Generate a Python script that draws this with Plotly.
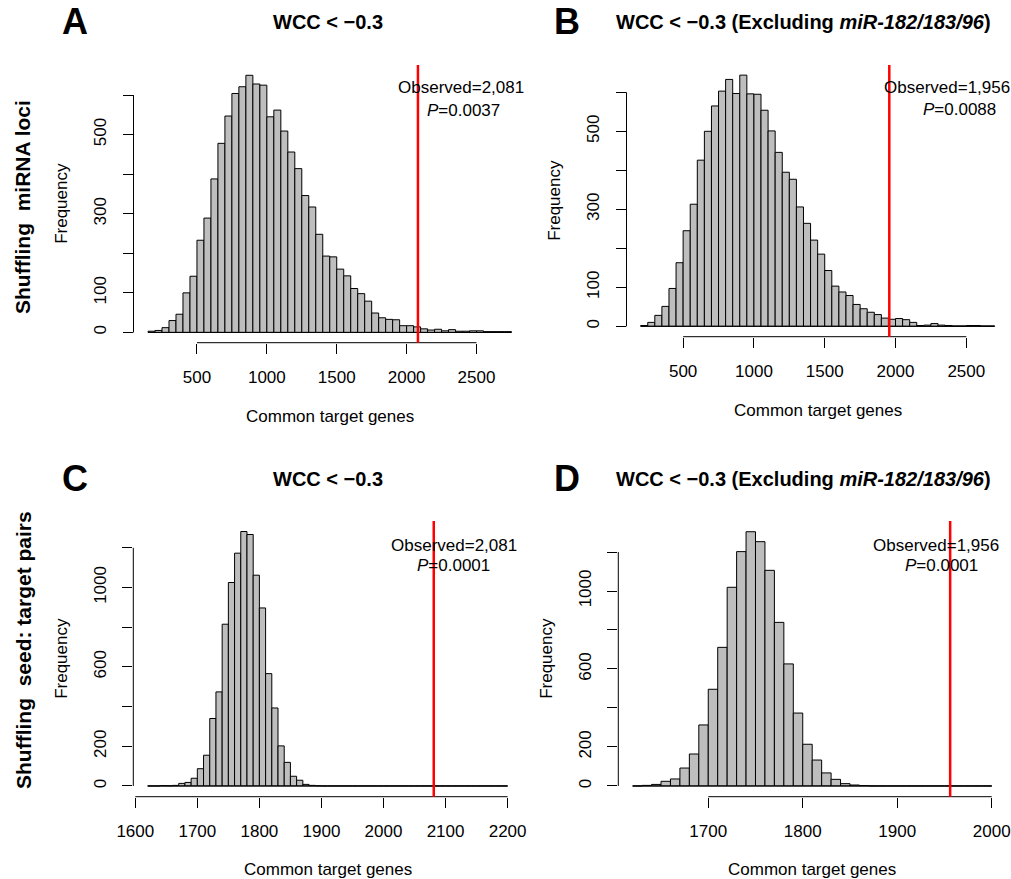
import plotly.graph_objects as go

W, H = 1011, 879

# ---------------- data ----------------
panels = ["A", "B", "C", "D"]

bin_start = [150, 200, 1620, 1620]
bin_width = [50, 50, 10, 10]

counts_a = [3, 5, 12, 30, 46, 100, 142, 233, 289, 388, 478, 547, 604, 621, 650,
            628, 625, 545, 562, 509, 456, 414, 346, 317, 248, 193, 191, 160, 143,
            111, 98, 79, 49, 37, 33, 32, 17, 17, 14, 9, 6, 8, 4, 7, 3, 3, 4, 4,
            2, 2, 2, 2]
counts_b = [2, 10, 28, 51, 97, 163, 245, 313, 426, 500, 565, 603, 633, 597, 644,
            596, 595, 554, 501, 446, 395, 377, 306, 264, 221, 185, 143, 103, 88,
            79, 56, 45, 36, 30, 21, 18, 20, 17, 10, 2, 3, 7, 3, 2, 1, 1, 2, 2, 1, 1]
counts_c = [0, 0, 2, 1, 3, 13, 18, 39, 87, 155, 340, 474, 815, 1025, 1173, 1282,
            1267, 1062, 897, 566, 393, 202, 119, 49, 29, 8, 3, 1] + [0] * 30
counts_d = [0, 3, 8, 24, 36, 92, 164, 313, 496, 711, 1019, 1202, 1304, 1253, 1106,
            839, 626, 374, 214, 133, 67, 34, 12, 5, 2] + [0] * 13
counts = [counts_a, counts_b, counts_c, counts_d]

observed = [2081, 1956, 2081, 1956]
observed_text = ["Observed=2,081", "Observed=1,956", "Observed=2,081", "Observed=1,956"]
p_text = ["0.0037", "0.0088", "0.0001", "0.0001"]

x_ticks = [[500, 1000, 1500, 2000, 2500],
           [500, 1000, 1500, 2000, 2500],
           [1600, 1700, 1800, 1900, 2000, 2100, 2200],
           [1700, 1800, 1900, 2000]]
y_ticks = [[0, 100, 200, 300, 400, 500, 600],
           [0, 100, 200, 300, 400, 500, 600],
           [0, 200, 400, 600, 800, 1000, 1200],
           [0, 200, 400, 600, 800, 1000, 1200]]
y_tick_text = [["0", "100", "", "300", "", "500", ""],
               ["0", "100", "", "300", "", "500", ""],
               ["0", "200", "", "600", "", "1000", ""],
               ["0", "200", "", "600", "", "1000", ""]]

titles = ["<b>WCC &lt; \u22120.3</b>",
          "<b>WCC &lt; \u22120.3 (Excluding <i>miR-182/183/96</i>)</b>",
          "<b>WCC &lt; \u22120.3</b>",
          "<b>WCC &lt; \u22120.3 (Excluding <i>miR-182/183/96</i>)</b>"]
row_labels = ["<b>Shuffling\u00a0 miRNA loci</b>", "<b>Shuffling\u00a0 seed: target pairs</b>"]
x_title = "Common target genes"
y_title = "Frequency"

# ---------------- layout geometry (pixels) ----------------
boxes = [  # left, right, top, bottom
    (133.5, 526.0, 65.0, 342.7),
    (626.5, 1008.8, 65.0, 336.7),
    (133.3, 522.0, 521.0, 796.7),
    (618.3, 1006.1, 521.0, 796.7),
]
x_ranges = [[46, 2854], [100, 2800], [1596.8, 2223.2], [1604.8, 2015.2]]
y_ranges = [[-26, 676], [-26.7, 670], [-54, 1335], [-55, 1359]]

obs_pos = [((460.5, 88), (463.5, 111)), ((946.5, 88), (959.5, 109)),
           ((453.7, 545), (453.5, 565)), ((935.8, 545), (941.8, 565))]
letter_pos = [(75, 22), (567, 22), (75, 479), (567, 479)]
title_pos = [(328, 22), (803, 22), (328, 479), (803, 479)]
xtitle_y = [417, 410, 869, 869]
freq_x = [62, 555, 62, 547]
row_pos = [(23, 207), (23, 650)]

FONT = "Liberation Sans, Arial, Helvetica, sans-serif"


def px(x):
    return x / W


def py(y):
    return 1 - y / H


fig = go.Figure()
layout = dict(width=W, height=H, margin=dict(l=0, r=0, t=0, b=0, pad=0),
              autosize=False,
              paper_bgcolor="white", plot_bgcolor="white", showlegend=False,
              font=dict(family=FONT, size=17, color="black"))
shapes = []
annotations = []

for i, key in enumerate(panels):
    n = "" if i == 0 else str(i + 1)
    xa, ya = "x" + n, "y" + n
    l, r, t, b = boxes[i]
    c = counts[i]
    centers = [bin_start[i] + bin_width[i] * (k + 0.5) for k in range(len(c))]
    fig.add_trace(go.Bar(
        x=centers, y=c, width=[bin_width[i]] * len(c),
        marker=dict(color="#BEBEBE", line=dict(color="black", width=1)),
        xaxis=xa, yaxis=ya, hoverinfo="x+y"))

    layout["xaxis" + n] = dict(
        domain=[px(l), px(r)], range=x_ranges[i], anchor=ya,
        showgrid=False, zeroline=False, showline=False, automargin=False,
        ticks="outside", ticklen=10, tickwidth=1, tickcolor="black",
        tickvals=x_ticks[i], ticklabelstandoff=9,
        tickfont=dict(family=FONT, size=17, color="black"))
    layout["yaxis" + n] = dict(
        domain=[py(b), py(t)], range=y_ranges[i], anchor=xa,
        showgrid=False, zeroline=False, showline=False, automargin=False,
        ticks="outside", ticklen=10, tickwidth=1, tickcolor="black",
        tickvals=y_ticks[i], ticktext=y_tick_text[i], tickangle=-90,
        ticklabelstandoff=10,
        tickfont=dict(family=FONT, size=17, color="black"))

    # histogram baseline (zero-height bins)
    shapes.append(dict(type="line", xref=xa, yref=ya,
                       x0=bin_start[i], x1=bin_start[i] + bin_width[i] * len(c),
                       y0=0, y1=0, line=dict(color="black", width=1)))
    # R-style axis lines spanning the tick range
    shapes.append(dict(type="line", xref=xa, yref=ya + " domain",
                       x0=x_ticks[i][0], x1=x_ticks[i][-1], y0=0, y1=0,
                       line=dict(color="black", width=1)))
    shapes.append(dict(type="line", xref=xa + " domain", yref=ya,
                       x0=0, x1=0, y0=y_ticks[i][0], y1=y_ticks[i][-1],
                       line=dict(color="black", width=1)))
    # observed value
    shapes.append(dict(type="line", xref=xa, yref=ya + " domain",
                       x0=observed[i], x1=observed[i], y0=0, y1=1,
                       line=dict(color="#FF0000", width=2.5)))

    (ox, oy), (qx, qy) = obs_pos[i]
    annotations.append(dict(text=observed_text[i], x=px(ox), y=py(oy),
                            xref="paper", yref="paper", showarrow=False,
                            xanchor="center", yanchor="middle",
                            font=dict(size=17, family=FONT)))
    annotations.append(dict(text="<i>P</i>=" + p_text[i], x=px(qx), y=py(qy),
                            xref="paper", yref="paper", showarrow=False,
                            xanchor="center", yanchor="middle",
                            font=dict(size=17, family=FONT)))
    lx, ly = letter_pos[i]
    annotations.append(dict(text="<b>" + key + "</b>", x=px(lx), y=py(ly),
                            xref="paper", yref="paper", showarrow=False,
                            xanchor="center", yanchor="middle",
                            font=dict(size=36, family=FONT)))
    tx, ty = title_pos[i]
    annotations.append(dict(text=titles[i], x=px(tx), y=py(ty),
                            xref="paper", yref="paper", showarrow=False,
                            xanchor="center", yanchor="middle",
                            font=dict(size=20, family=FONT)))
    annotations.append(dict(text=x_title, x=px((l + r) / 2), y=py(xtitle_y[i]),
                            xref="paper", yref="paper", showarrow=False,
                            xanchor="center", yanchor="middle",
                            font=dict(size=17, family=FONT)))
    annotations.append(dict(text=y_title, x=px(freq_x[i]), y=py((t + b) / 2),
                            xref="paper", yref="paper", showarrow=False,
                            textangle=-90, xanchor="center", yanchor="middle",
                            font=dict(size=17, family=FONT)))

for j, lab in enumerate(row_labels):
    rx, ry = row_pos[j]
    annotations.append(dict(text=lab, x=px(rx), y=py(ry), xref="paper", yref="paper",
                            showarrow=False, textangle=-90, xanchor="center",
                            yanchor="middle", font=dict(size=21, family=FONT)))

layout["shapes"] = shapes
layout["annotations"] = annotations
fig.update_layout(**layout)
fig.write_html("out.html", config={"responsive": False, "displayModeBar": False},
               post_script="document.body.style.margin='0';"
                           "document.body.style.padding='0';"
                           "document.body.style.overflow='hidden';")
